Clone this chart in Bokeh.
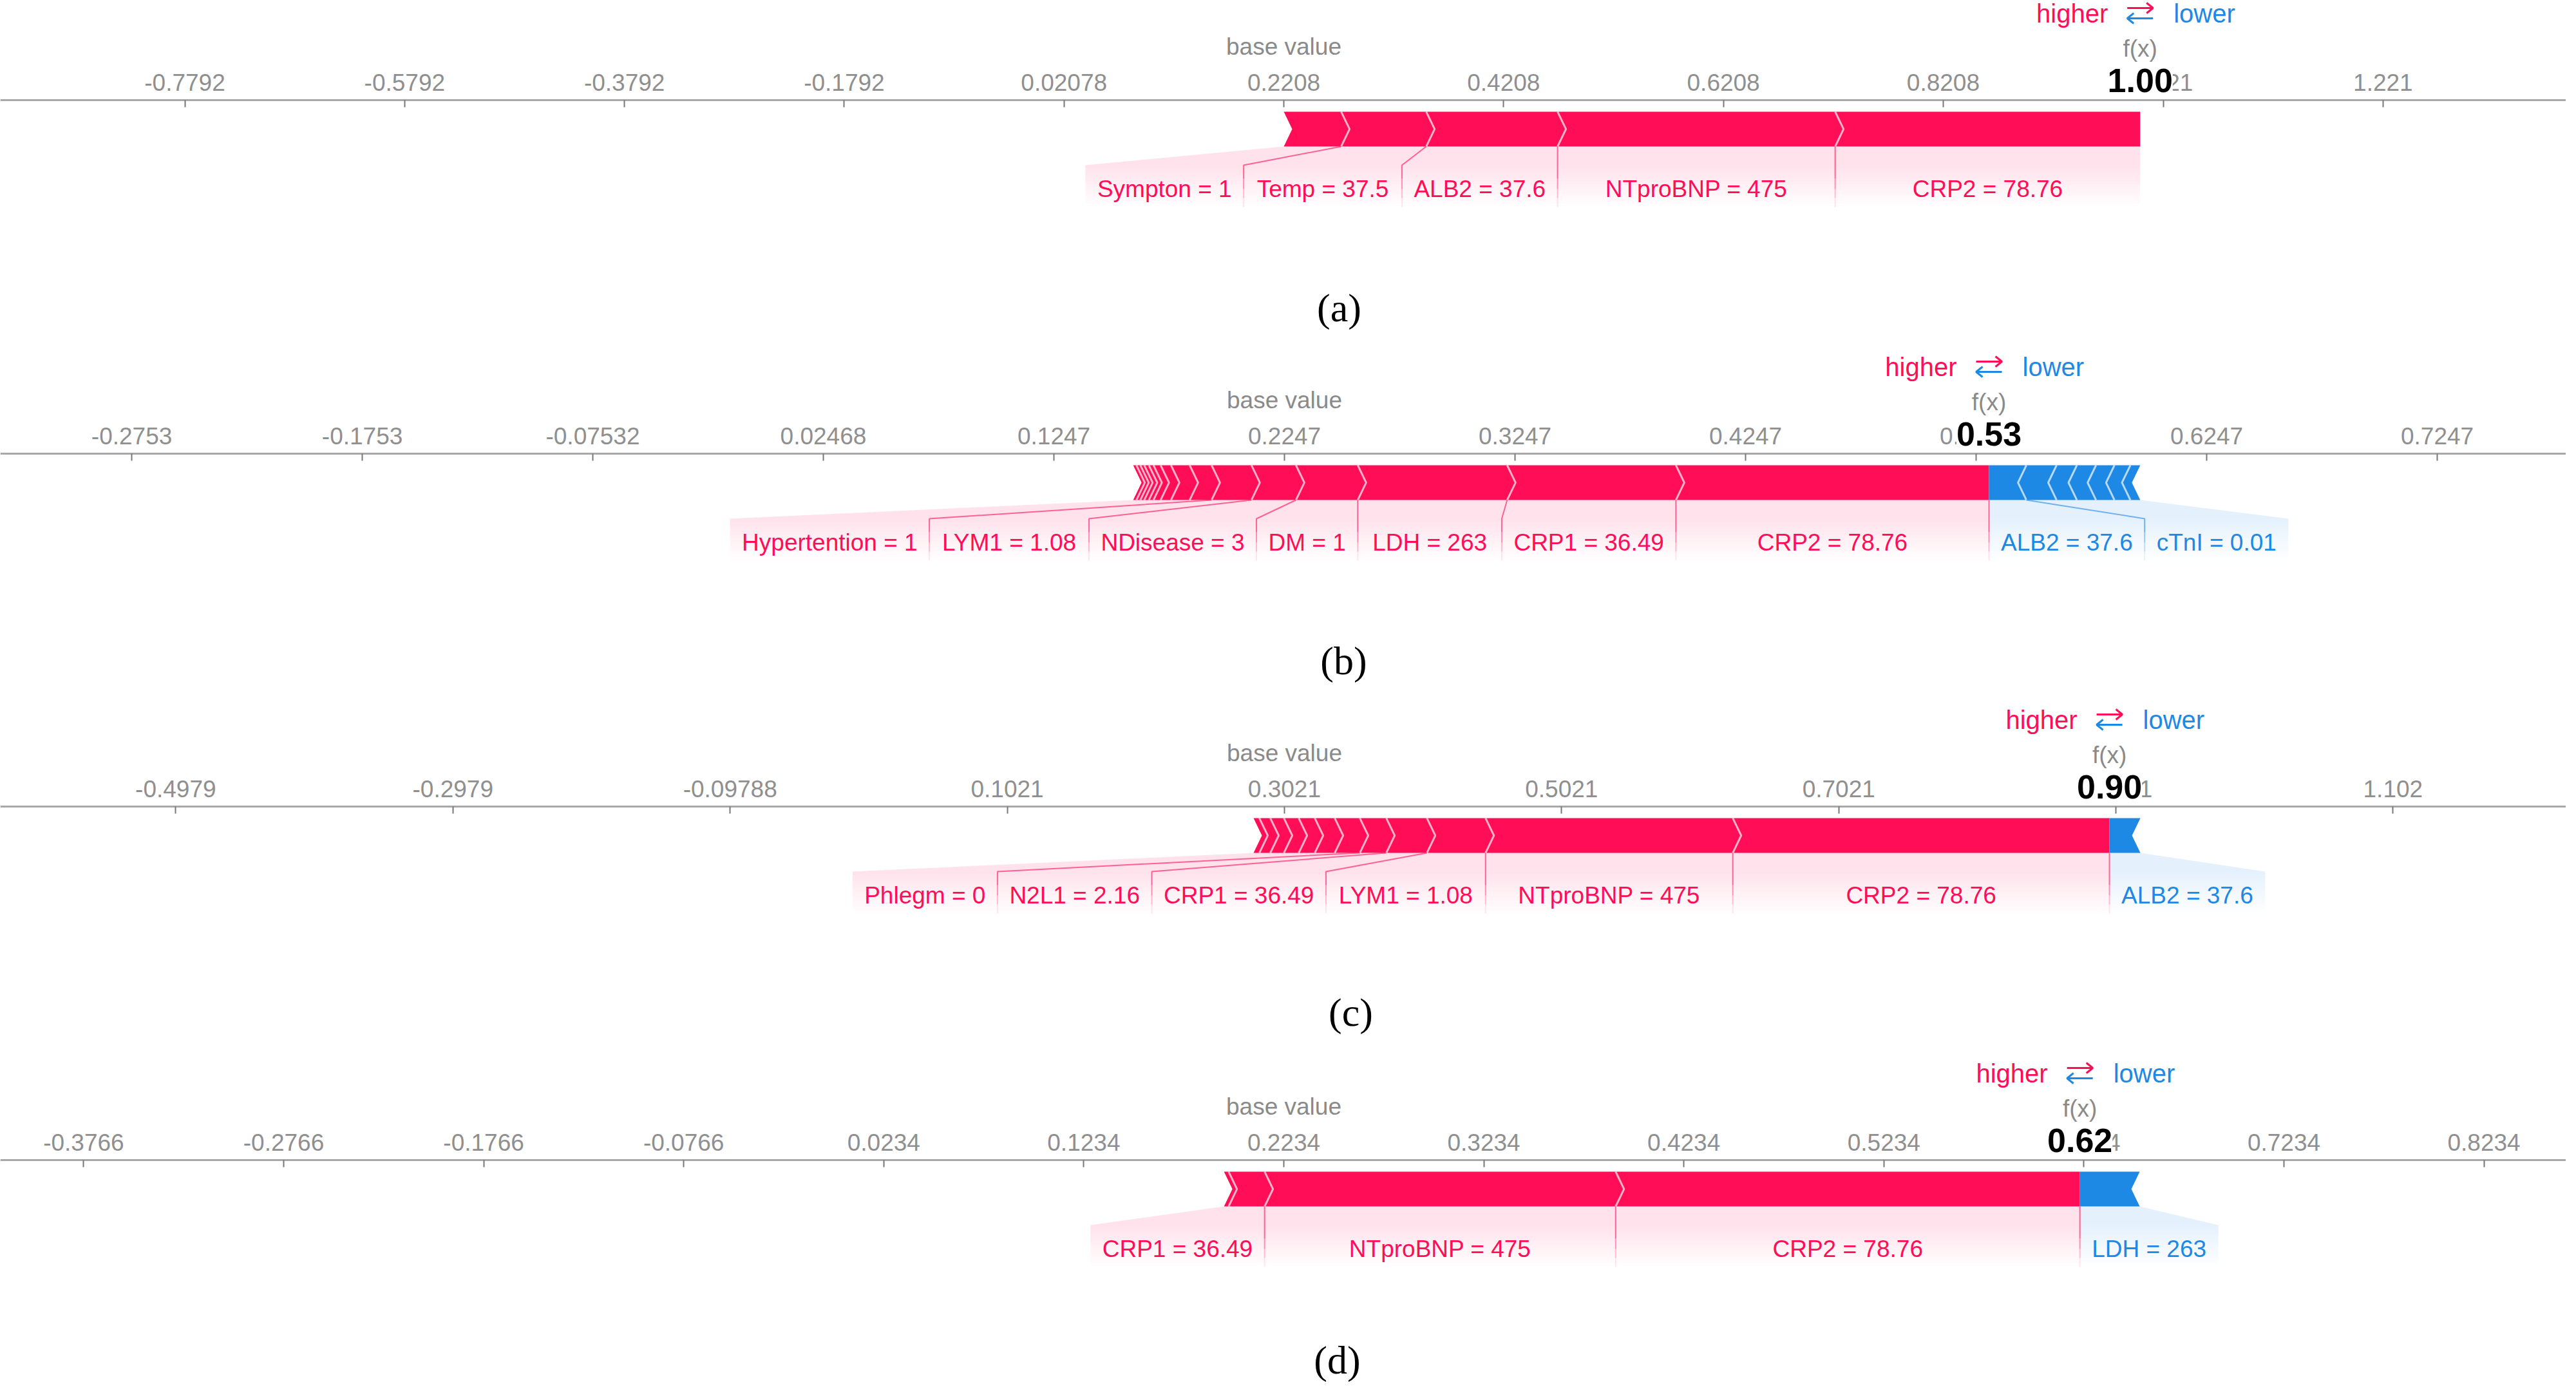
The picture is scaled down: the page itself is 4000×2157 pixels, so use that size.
import math
from bokeh.plotting import figure
from bokeh.models import Range1d, FixedTicker, Label, LinearAxis
from bokeh.layouts import column
from bokeh.embed import file_html
from bokeh.resources import INLINE
from bokeh.core.properties import value

# ---------------- data ----------------
panel_tags = ["(a)", "(b)", "(c)", "(d)"]
base_values = [0.22078, 0.22468, 0.30212, 0.2234]

# (a)
a_pos_small = []
a_pos_names = ["Sympton = 1", "Temp = 37.5", "ALB2 = 37.6", "NTproBNP = 475", "CRP2 = 78.76"]
a_pos_values = [0.0522, 0.0774, 0.1195, 0.2526, 0.2775]
a_neg_names = []
a_neg_values = []
a_neg_small = []
a_tick_labels = ["-0.7792", "-0.5792", "-0.3792", "-0.1792", "0.02078", "0.2208",
                 "0.4208", "0.6208", "0.8208", "1.021", "1.221"]

# (b)
b_pos_small = [0.0014, 0.0017, 0.0017, 0.0020, 0.0020, 0.0031, 0.0045, 0.0081]
b_pos_names = ["Hypertention = 1", "LYM1 = 1.08", "NDisease = 3", "DM = 1", "LDH = 263",
               "CRP1 = 36.49", "CRP2 = 78.76"]
b_pos_values = [0.0095, 0.0173, 0.0193, 0.0268, 0.0648, 0.0732, 0.1358]
b_neg_names = ["ALB2 = 37.6", "cTnI = 0.01"]
b_neg_values = [0.0162, 0.0131]
b_neg_small = [0.0088, 0.0083, 0.0080, 0.0069, 0.0043]
b_tick_labels = ["-0.2753", "-0.1753", "-0.07532", "0.02468", "0.1247", "0.2247",
                 "0.3247", "0.4247", "0.5247", "0.6247", "0.7247"]

# (c)
c_pos_small = [0.0042, 0.0079, 0.0098, 0.0107, 0.0116, 0.0144]
c_pos_names = ["Phlegm = 0", "N2L1 = 2.16", "CRP1 = 36.49", "LYM1 = 1.08",
               "NTproBNP = 475", "CRP2 = 78.76"]
c_pos_values = [0.0181, 0.0191, 0.0293, 0.0423, 0.1784, 0.2718]
c_neg_names = ["ALB2 = 37.6"]
c_neg_values = [0.0223]
c_neg_small = []
c_tick_labels = ["-0.4979", "-0.2979", "-0.09788", "0.1021", "0.3021", "0.5021",
                 "0.7021", "0.9021", "1.102"]

# (d)
d_pos_small = [0.0023]
d_pos_names = ["CRP1 = 36.49", "NTproBNP = 475", "CRP2 = 78.76"]
d_pos_values = [0.0180, 0.1755, 0.2321]
d_neg_names = ["LDH = 263"]
d_neg_values = [0.0299]
d_neg_small = []
d_tick_labels = ["-0.3766", "-0.2766", "-0.1766", "-0.0766", "0.0234", "0.1234", "0.2234",
                 "0.3234", "0.4234", "0.5234", "0.6234", "0.7234", "0.8234"]

# ---------------- layout / style ----------------
FIG_W = 3984
fig_heights = [533, 533, 540, 541]
axis_tops = [155, 171, 186, 195]
view_ranges = [(-0.94711, 1.38750), (-0.33230, 0.78055), (-0.62446, 1.22684), (-0.41826, 0.86442)]
tag_x = [2079, 2086, 2097, 2076]
tag_y = [322, 321, 319, 310]

RED = "#FF0D57"
BLUE = "#1E88E5"
FONT = "Liberation Sans"
FS = 37
PAD = 37
DEPTH = 13
T, M, B = 18, 45, 72          # bar top / middle / bottom (px below axis)
LT, LB, TY = 101, 166, 138    # label box top / bottom / text line

CW = {' ': 278, '=': 584, '.': 278, '(': 333, ')': 333}
for ch in "0123456789":
    CW[ch] = 556
CW.update(dict(A=667, B=667, C=722, D=722, E=667, F=611, G=778, H=722, I=278, J=500, K=667,
               L=556, M=833, N=722, O=778, P=667, Q=778, R=722, S=667, T=611, U=722, V=667,
               W=944, X=667, Y=667, Z=611, a=556, b=556, c=500, d=556, e=556, f=278, g=556,
               h=556, i=222, j=222, k=500, l=222, m=833, n=556, o=556, p=556, q=556, r=333,
               s=500, t=278, u=556, v=500, w=722, x=500, y=500, z=500))


def text_w(s):
    return sum(CW.get(ch, 556) for ch in s) / 1000.0 * FS


def shade(p, bx0, bx1, lx0, lx1, color):
    ys_cuts = [B + (LT - B) * k / 4.0 for k in range(5)] + [LT + (LB - LT) * k / 13.0 for k in range(1, 14)]

    def edge(y, xb, xl):
        if y <= LT:
            return xb + (xl - xb) * (y - B) / (LT - B)
        return xl

    xs, ys, al = [], [], []
    for ya, yb in zip(ys_cuts[:-1], ys_cuts[1:]):
        xs.append([edge(ya, bx0, lx0), edge(ya, bx1, lx1), edge(yb, bx1, lx1), edge(yb, bx0, lx0)])
        ys.append([ya, ya, yb, yb])
        ym = 0.5 * (ya + yb)
        al.append(0.12 if ym < LT else 0.12 * (1 - (ym - LT) / (LB - LT)))
    p.patches(xs, ys, fill_color=color, fill_alpha=al, line_color=None)


def sep_line(p, xb, xl, color):
    pieces = [([xb, xl, xl], [B, LT, 122], 0.6), ([xl, xl], [122, 138], 0.42),
              ([xl, xl], [138, 152], 0.25), ([xl, xl], [152, LB], 0.1)]
    p.multi_line([q[0] for q in pieces], [q[1] for q in pieces], line_color=color,
                 line_alpha=[q[2] for q in pieces], line_width=2)


def build(i, pos_small, pos_names, pos_values, neg_names, neg_values, neg_small, tick_labels):
    base = base_values[i]
    x0, x1 = view_ranges[i]
    top = axis_tops[i]
    H = fig_heights[i]
    ppu = FIG_W / (x1 - x0)
    d = DEPTH / ppu
    pos_all = list(pos_small) + list(pos_values)
    neg_all = list(neg_values) + list(neg_small)
    fx = base + sum(pos_all) - sum(neg_all)

    p = figure(width=FIG_W, height=H, x_range=Range1d(x0, x1),
               y_range=Range1d(H - top, -top),
               x_axis_location=None, y_axis_location=None, output_backend="svg",
               toolbar_location=None, min_border=0)
    p.outline_line_color = None
    p.background_fill_color = "white"
    p.border_fill_color = "white"

    tick_vals = [float(s) for s in tick_labels]
    ax = LinearAxis(fixed_location=0, ticker=FixedTicker(ticks=tick_vals))
    ax.major_label_overrides = {v: s for v, s in zip(tick_vals, tick_labels)}
    ax.minor_tick_line_color = None
    ax.major_tick_in = 11
    ax.major_tick_out = 0
    ax.major_tick_line_color = "#777777"
    ax.major_tick_line_width = 2
    ax.axis_line_color = "#a8a8a8"
    ax.axis_line_width = 3
    ax.major_label_text_font = FONT
    ax.major_label_text_font_size = f"{FS}px"
    ax.major_label_text_color = "#8f8f8f"
    ax.major_label_standoff = 15
    p.add_layout(ax, "above")
    p.grid.visible = False

    # ---- positive (red) bar ----
    edges = [fx - sum(pos_all)]
    for v in pos_all:
        edges.append(edges[-1] + v)
    n = len(pos_all)
    xs, ys = [], []
    for k in range(n):
        a, b = edges[k], edges[k + 1]
        tip = b if k == n - 1 else b + d
        xs.append([a, b, tip, b, a, a + d])
        ys.append([T, T, M, B, B, M])
    if xs:
        p.patches(xs, ys, fill_color=RED, line_color=None)
        sx = [[e, e + d, e] for e in edges[1:-1]]
        if sx:
            p.multi_line(sx, [[T, M, B]] * len(sx), line_color="white", line_alpha=0.65, line_width=3)

    # ---- negative (blue) bar ----
    nedges = [fx]
    for v in neg_all:
        nedges.append(nedges[-1] + v)
    xs, ys = [], []
    for k in range(len(neg_all)):
        a, b = nedges[k], nedges[k + 1]
        left = a if k == 0 else a - d
        xs.append([a, b, b - d, b, a, left])
        ys.append([T, T, M, B, B, M])
    if xs:
        p.patches(xs, ys, fill_color=BLUE, line_color=None)
        sx = [[e, e - d, e] for e in nedges[1:-1]]
        if sx:
            p.multi_line(sx, [[T, M, B]] * len(sx), line_color="white", line_alpha=0.65, line_width=3)

    # ---- positive labels ----
    ns = len(pos_small)
    m = len(pos_names)
    boxes = [None] * m
    prev = math.inf
    for j in reversed(range(m)):
        sl, sr = edges[ns + j], edges[ns + j + 1]
        w = (text_w(pos_names[j]) + PAD) / ppu
        br = min(sr, prev)
        bl = min(sl, br - w)
        boxes[j] = (bl, br)
        prev = bl
    for j in range(m):
        sl, sr = edges[ns + j], edges[ns + j + 1]
        bx0 = edges[0] if j == 0 else sl
        shade(p, bx0, sr, boxes[j][0], boxes[j][1], RED)
    for j in range(1, m):
        sep_line(p, edges[ns + j], boxes[j][0], RED)
    if m:
        p.text(x=[(b0 + b1) / 2 for b0, b1 in boxes], y=[TY] * m, text=pos_names,
               text_font=value(FONT), text_font_size=value(f"{FS}px"), text_color=RED,
               text_align="center", text_baseline="middle")

    # ---- negative labels ----
    mn = len(neg_names)
    nboxes = []
    prev = -math.inf
    for j in range(mn):
        sl, sr = nedges[j], nedges[j + 1]
        w = (text_w(neg_names[j]) + PAD) / ppu
        bl = max(sl, prev)
        br = max(sr, bl + w)
        nboxes.append((bl, br))
        prev = br
    for j in range(mn):
        sl, sr = nedges[j], nedges[j + 1]
        bx1 = nedges[-1] if j == mn - 1 else sr
        shade(p, sl, bx1, nboxes[j][0], nboxes[j][1], BLUE)
    for j in range(mn - 1):
        sep_line(p, nedges[j + 1], nboxes[j][1], BLUE)
    if mn:
        sep_line(p, fx, fx, RED)
        p.text(x=[(b0 + b1) / 2 for b0, b1 in nboxes], y=[TY] * mn, text=neg_names,
               text_font=value(FONT), text_font_size=value(f"{FS}px"), text_color=BLUE,
               text_align="center", text_baseline="middle")

    # ---- header texts ----
    def lab(**kw):
        p.add_layout(Label(text_font=FONT, text_baseline="middle", **kw))

    lab(x=base, y=-83, text="base value", text_align="center", text_font_size=f"{FS}px",
        text_color="#8a8a8a")
    lab(x=fx, y=-80, text="f(x)", text_align="center", text_font_size=f"{FS}px",
        text_color="#8a8a8a")
    lab(x=fx, y=-31, text=f"{fx:.2f}", text_align="center", text_font_size="52px",
        text_font_style="bold", text_color="black", background_fill_color="white",
        background_fill_alpha=1.0)
    lab(x=fx, y=-135, x_offset=-50, text="higher", text_align="right", text_font_size="40px",
        text_color=RED)
    lab(x=fx, y=-135, x_offset=52, text="lower", text_align="left", text_font_size="40px",
        text_color=BLUE)

    # higher / lower arrows
    u = 1.0 / ppu
    p.multi_line([[fx - 20 * u, fx + 20 * u], [fx + 10 * u, fx + 20 * u, fx + 10 * u]],
                 [[-143, -143], [-151, -143, -135]], line_color=RED, line_width=3)
    p.multi_line([[fx + 20 * u, fx - 20 * u], [fx - 10 * u, fx - 20 * u, fx - 10 * u]],
                 [[-127, -127], [-135, -127, -119]], line_color=BLUE, line_width=3)

    # ---- panel tag ----
    p.add_layout(Label(x=tag_x[i], x_units="screen", y=tag_y[i], text=panel_tags[i],
                       text_font="Liberation Serif", text_font_size="62px", text_color="black",
                       text_align="center", text_baseline="middle"))
    return p


figs = [
    build(0, a_pos_small, a_pos_names, a_pos_values, a_neg_names, a_neg_values, a_neg_small, a_tick_labels),
    build(1, b_pos_small, b_pos_names, b_pos_values, b_neg_names, b_neg_values, b_neg_small, b_tick_labels),
    build(2, c_pos_small, c_pos_names, c_pos_values, c_neg_names, c_neg_values, c_neg_small, c_tick_labels),
    build(3, d_pos_small, d_pos_names, d_pos_values, d_neg_names, d_neg_values, d_neg_small, d_tick_labels),
]

layout = column(*figs, spacing=0)
open("out.html", "w").write(file_html(layout, INLINE))
